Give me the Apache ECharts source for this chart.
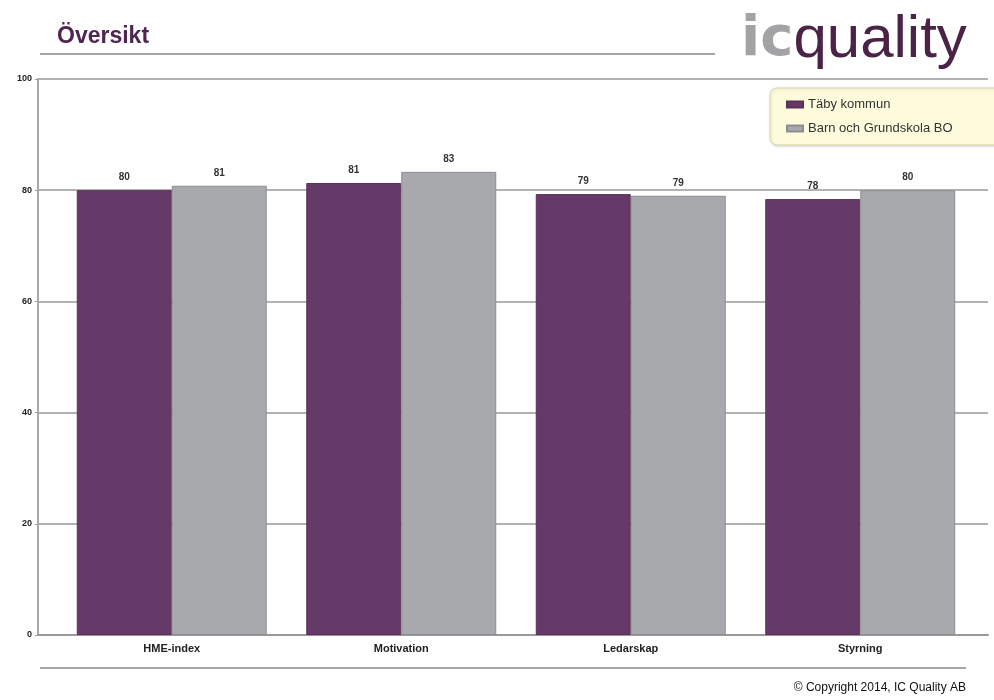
<!DOCTYPE html>
<html>
<head>
<meta charset="utf-8">
<script src="https://cdn.jsdelivr.net/npm/echarts@6/dist/echarts.min.js"></script>
<style>
html,body{margin:0;padding:0;background:#fff;}
#chart{width:994px;height:700px;}
</style>
</head>
<body>
<div id="chart"></div>
<script>
var categories = ['HME-index', 'Motivation', 'Ledarskap', 'Styrning'];
var seriesNames = ['Täby kommun', 'Barn och Grundskola BO'];
var tabyValues = [80.0, 81.3, 79.3, 78.4];
var barnValues = [80.8, 83.3, 79.0, 80.0];
var yTicks = [0, 20, 40, 60, 80, 100];

var FONT = '"Liberation Sans", Arial, sans-serif';
var chart = echarts.init(document.getElementById('chart'));

var labelCfg = {
  show: true, position: 'top', distance: 8,
  fontFamily: FONT, fontSize: 10, fontWeight: 'bold', color: '#333',
  formatter: function (p) { return String(Math.round(p.value)); }
};

chart.setOption({
  animation: false,
  backgroundColor: '#fff',
  textStyle: { fontFamily: FONT },
  grid: [
    { left: 38, right: 6, top: 79, bottom: 65 },
    { left: 57, right: 19, top: 79, bottom: 65 }
  ],
  xAxis: [
    { gridIndex: 0, type: 'value', min: 0, max: 1,
      axisLine: { show: true, lineStyle: { color: '#999', width: 2 } },
      axisTick: { show: false }, axisLabel: { show: false }, splitLine: { show: false } },
    { gridIndex: 1, type: 'category', data: categories,
      axisLine: { show: false }, axisTick: { show: false },
      axisLabel: { fontFamily: FONT, fontSize: 11, fontWeight: 'bold', color: '#222', margin: 8 } }
  ],
  yAxis: [
    { gridIndex: 0, type: 'value', min: yTicks[0], max: yTicks[yTicks.length - 1], interval: 20,
      axisLine: { show: true, lineStyle: { color: '#aaa', width: 2 } },
      axisTick: { show: true, length: 3, lineStyle: { color: '#999' } },
      axisLabel: { fontFamily: FONT, fontSize: 9, fontWeight: 'bold', color: '#222', margin: 6 },
      splitLine: { show: true, lineStyle: { color: '#999', width: 1.5 } } },
    { gridIndex: 1, type: 'value', min: 0, max: 100, show: false }
  ],
  legend: {
    orient: 'vertical', left: 770, top: 88,
    padding: [10, 50, 10, 16], itemGap: 11,
    itemWidth: 16, itemHeight: 6, icon: 'rect',
    backgroundColor: '#fdfbdc', borderColor: '#d6d4a8', borderWidth: 1, borderRadius: 7,
    shadowColor: 'rgba(0,0,0,0.15)', shadowBlur: 3, shadowOffsetX: 1, shadowOffsetY: 1,
    textStyle: { fontFamily: FONT, fontSize: 13, color: '#333' },
    data: seriesNames
  },
  series: [
    { name: seriesNames[0], type: 'bar', xAxisIndex: 1, yAxisIndex: 1,
      data: tabyValues, barWidth: 95, barGap: '0%',
      itemStyle: { color: '#663a68', borderColor: '#5a3059', borderWidth: 1 },
      label: labelCfg },
    { name: seriesNames[1], type: 'bar', xAxisIndex: 1, yAxisIndex: 1,
      data: barnValues, barWidth: 95, barGap: '0%',
      itemStyle: { color: '#a8a9ad', borderColor: '#8d8e92', borderWidth: 1 },
      label: labelCfg }
  ],
  graphic: [
    { type: 'text', left: 57, top: 25,
      style: { text: 'Översikt', fontFamily: FONT, fontSize: 23, fontWeight: 'bold', fill: '#4f2552' } },
    { type: 'line', shape: { x1: 40, y1: 54, x2: 715, y2: 54 },
      style: { stroke: '#888', lineWidth: 1.5 } },
    { type: 'text', left: 741, top: 10,
      style: {
        text: '{a|ic}{b|quality}',
        rich: {
          a: { fontFamily: '"DejaVu Sans", sans-serif', fontSize: 56, fontWeight: 'bold', fill: '#a3a3a5' },
          b: { fontFamily: FONT, fontSize: 60, fill: '#4b2346' }
        }
      } },
    { type: 'line', shape: { x1: 40, y1: 668, x2: 966, y2: 668 },
      style: { stroke: '#888', lineWidth: 1.5 } },
    { type: 'text', right: 28, top: 682,
      style: { text: '© Copyright 2014, IC Quality AB', fontFamily: FONT, fontSize: 12, fill: '#111', textAlign: 'right' } }
  ]
});
</script>
</body>
</html>
